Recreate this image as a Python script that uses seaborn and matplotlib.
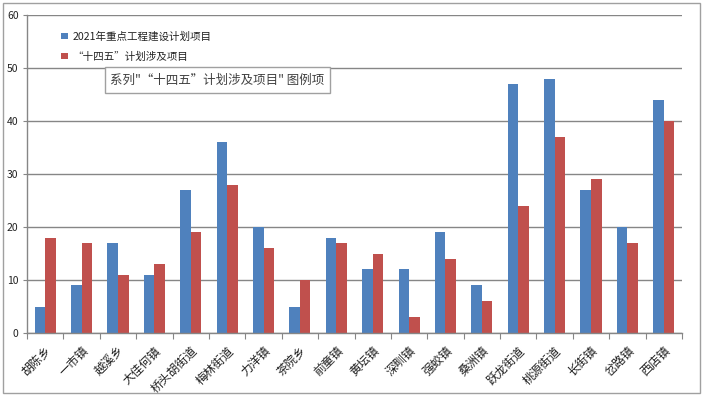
import matplotlib
matplotlib.use("Agg")
import matplotlib.pyplot as plt
from matplotlib.patches import Rectangle, Patch
import seaborn as sns
import pandas as pd
import numpy as np

towns = ["胡陈乡", "一市镇", "越溪乡", "大佳何镇", "桥头胡街道", "梅林街道", "力洋镇", "茶院乡", "前童镇",
         "黄坛镇", "深甽镇", "强蛟镇", "桑洲镇", "跃龙街道", "桃源街道", "长街镇", "岔路镇", "西店镇"]
series_names = ["2021年重点工程建设计划项目", "“十四五”计划涉及项目"]
key_projects_2021 = [5, 9, 17, 11, 27, 36, 20, 5, 18, 12, 12, 19, 9, 47, 48, 27, 20, 44]
plan_14th = [18, 17, 11, 13, 19, 28, 16, 10, 17, 15, 3, 14, 6, 24, 37, 29, 17, 40]
y_ticks = [0, 10, 20, 30, 40, 50, 60]
tooltip_text = '系列"“十四五”计划涉及项目" 图例项'

colors = ["#4F81BD", "#C0504D"]

df = pd.DataFrame({
    "town": towns * 2,
    "value": key_projects_2021 + plan_14th,
    "series": [series_names[0]] * len(towns) + [series_names[1]] * len(towns),
})

sns.set_theme(style="white")
plt.rcParams["font.family"] = ["Noto Sans CJK SC", "DejaVu Sans"]

W, H = 705, 398
fig = plt.figure(figsize=(W / 100, H / 100), dpi=100)
fig.patch.set_facecolor("white")
ax = fig.add_axes([27 / W, 1 - 333 / H, (682 - 27) / W, (333 - 15) / H])

sns.barplot(data=df, x="town", y="value", hue="series", palette=colors,
            order=towns, hue_order=series_names, width=0.58, gap=0,
            saturation=1, ax=ax, legend=False, edgecolor="none", linewidth=0)

ax.set_xlim(-0.5, len(towns) - 0.5)
ax.set_ylim(0, 60)
ax.set_yticks(y_ticks)
ax.set_yticklabels([str(v) for v in y_ticks], fontsize=7.5, color="#222222")
ax.yaxis.grid(True, color="#868686", linewidth=1)
ax.set_axisbelow(True)
ax.set_xlabel("")
ax.set_ylabel("")

ax.set_xticks(np.arange(len(towns)))
ax.set_xticklabels(towns, rotation=45, ha="right", rotation_mode="anchor",
                   fontsize=8.6, color="#222222")
ax.tick_params(axis="x", which="major", length=0, pad=8)
ax.set_xticks(np.arange(-0.5, len(towns)), minor=True)
ax.tick_params(axis="x", which="minor", length=4, width=0.8, color="#868686", direction="out", bottom=True)
ax.tick_params(axis="y", length=3, width=0.8, color="#868686", direction="out", left=True, pad=3)

for s in ["top", "right"]:
    ax.spines[s].set_visible(False)
for s in ["left", "bottom"]:
    ax.spines[s].set_color("#868686")
    ax.spines[s].set_linewidth(1)

handles = [Patch(facecolor=c, edgecolor="none") for c in colors]
leg = ax.legend(handles, series_names, loc="upper left",
                bbox_to_anchor=((57 - 27) / 655, (333 - 27) / 318),
                frameon=False, fontsize=7.6, handlelength=0.6, handleheight=0.6,
                handletextpad=0.5, labelspacing=0.95, borderaxespad=0)
for t in leg.get_texts():
    t.set_color("#222222")

# tooltip box
fig.patches.append(Rectangle((105 / W, 1 - 93 / H), 225 / W, 26 / H, transform=fig.transFigure,
                             facecolor="white", edgecolor="#a0a0a0", linewidth=1, zorder=5))
fig.text(217 / W, 1 - 80 / H, tooltip_text, ha="center", va="center", fontsize=9,
         color="#404040", zorder=6)

# outer chart border
fig.patches.append(Rectangle((3 / W, 1 - 393 / H), 697 / W, 390 / H, transform=fig.transFigure,
                             facecolor="none", edgecolor="#a0a0a0", linewidth=1))

fig.savefig("out.png", dpi=100)
